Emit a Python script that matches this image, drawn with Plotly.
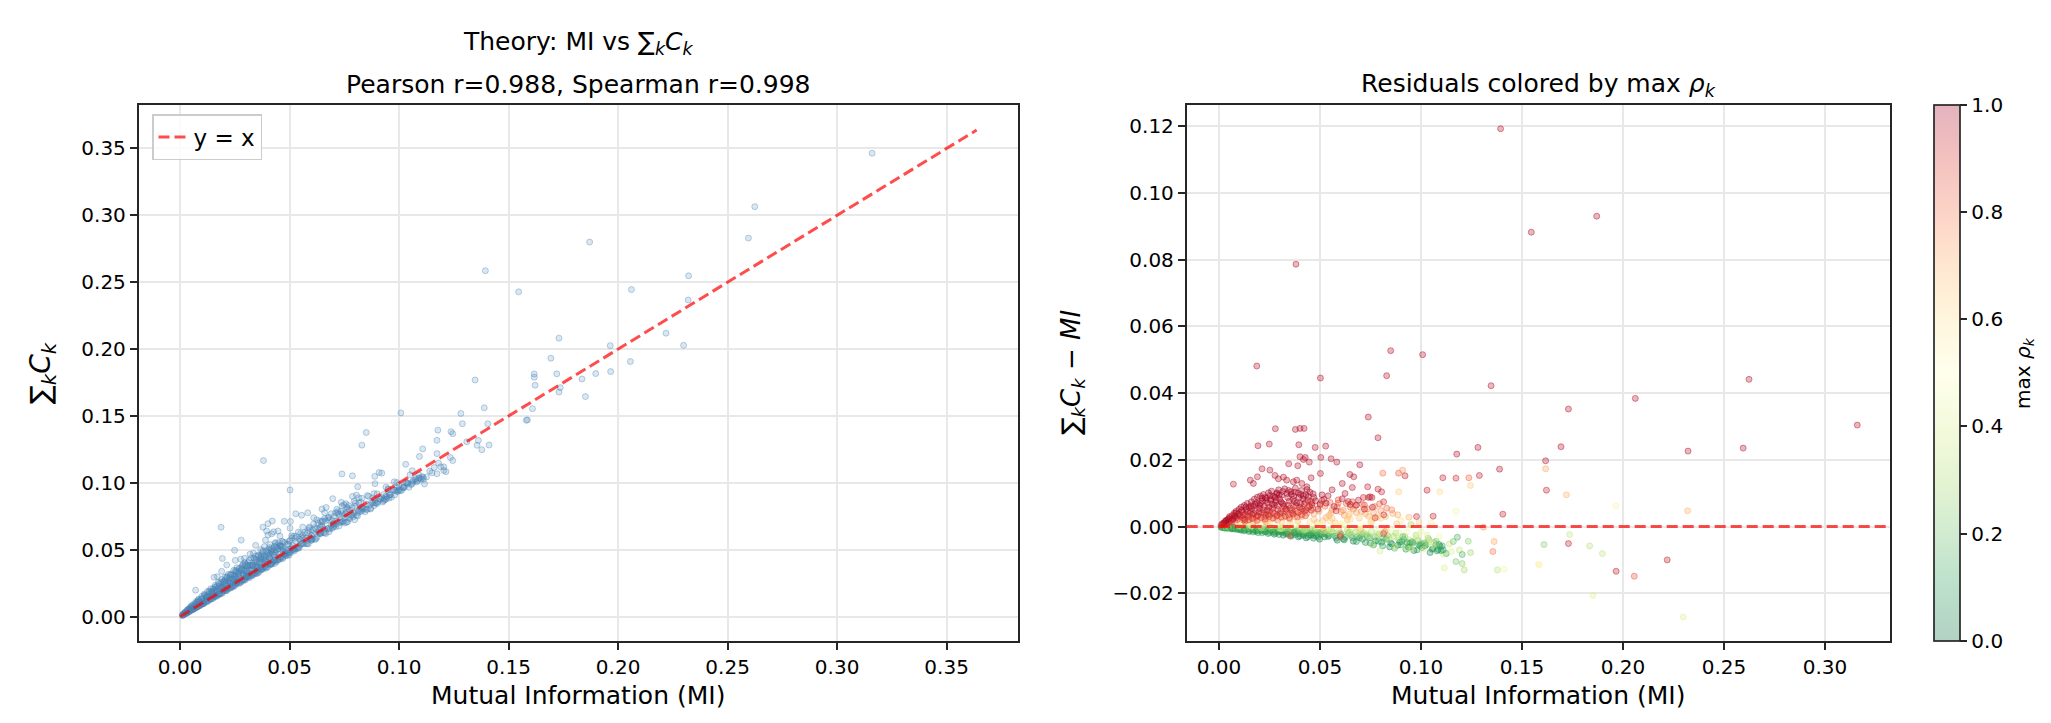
import numpy as np
import plotly.graph_objects as go

# ---------------- DATA ----------------
# Isolated / sparse points: mutual information, residual (sum C_k - MI), max rho_k
mi_sparse = [
    0.1394, 0.1546, 0.1870, 0.0381, 0.0187, 0.0502, 0.0850, 0.0830, 0.1008, 0.1347,
    0.2624, 0.2061, 0.1730, 0.3160, 0.0739, 0.0787, 0.1693, 0.2595, 0.2322, 0.1282,
    0.1177, 0.1617, 0.1389, 0.1617, 0.1108, 0.1173, 0.1237, 0.1289, 0.1245, 0.1093,
    0.1720, 0.1030, 0.1621, 0.1964, 0.2320, 0.1173, 0.1405, 0.0978, 0.1060, 0.1309,
    0.1736, 0.1730, 0.1362, 0.1356, 0.1609, 0.1835, 0.1898, 0.2219, 0.1966, 0.2056,
    0.1586, 0.1851, 0.2299, 0.1378, 0.1411, 0.1116, 0.1173, 0.1204, 0.1214, 0.1245,
    0.1204, 0.1234, 0.1160, 0.1180, 0.1090, 0.1100, 0.1110, 0.1075, 0.1020, 0.0990,
    0.0960, 0.0930, 0.0910, 0.0950, 0.0279, 0.0378, 0.0401, 0.0421, 0.0193, 0.0249,
    0.0395, 0.0476, 0.0528, 0.0213, 0.0252, 0.0345, 0.0390, 0.0401, 0.0418, 0.0427,
    0.0447, 0.0504, 0.0555, 0.0583, 0.0697, 0.0502, 0.0456, 0.0071, 0.0155, 0.0190,
    0.0170, 0.0277, 0.0294, 0.0319, 0.0335, 0.0368, 0.0385, 0.0410, 0.0435, 0.0648,
    0.0667, 0.0610, 0.0660, 0.0624, 0.0736, 0.0748, 0.0787, 0.0805, 0.0715, 0.0740,
    0.0757, 0.0815, 0.0773, 0.0816, 0.0889, 0.0909, 0.0921, 0.0811, 0.0890, 0.1581,
]
res_sparse = [
    0.1192, 0.0882, 0.0930, 0.0786, 0.0481, 0.0445, 0.0527, 0.0452, 0.0515, 0.0422,
    0.0441, 0.0384, 0.0352, 0.0304, 0.0328, 0.0266, 0.0239, 0.0235, 0.0226, 0.0237,
    0.0217, 0.0197, 0.0172, 0.0173, 0.0146, 0.0145, 0.0146, 0.0153, 0.0123, 0.0104,
    0.0095, 0.0109, 0.0109, 0.0062, 0.0047, 0.0046, 0.0037, 0.0030, 0.0031, -0.0002,
    -0.0024, -0.0051, -0.0045, -0.0075, -0.0054, -0.0058, -0.0081, -0.0100, -0.0134, -0.0149,
    -0.0115, -0.0206, -0.0271, -0.0130, -0.0128, -0.0124, -0.0105, -0.0111, -0.0130, -0.0078,
    -0.0084, -0.0044, -0.0045, -0.0032, -0.0054, -0.0072, -0.0070, -0.0054, -0.0052, -0.0055,
    -0.0050, -0.0048, -0.0030, 0.0006, 0.0293, 0.0291, 0.0294, 0.0294, 0.0242, 0.0247,
    0.0245, 0.0237, 0.0241, 0.0173, 0.0169, 0.0188, 0.0182, 0.0209, 0.0201, 0.0207,
    0.0193, 0.0207, 0.0203, 0.0193, 0.0185, 0.0159, 0.0146, 0.0127, 0.0139, 0.0149,
    0.0129, 0.0153, 0.0143, 0.0148, 0.0139, 0.0134, 0.0139, 0.0129, 0.0119, 0.0156,
    0.0149, 0.0129, 0.0117, 0.0099, 0.0119, 0.0089, 0.0112, 0.0104, 0.0087, 0.0087,
    0.0087, 0.0074, 0.0026, 0.0035, 0.0160, 0.0169, 0.0152, 0.0160, 0.0104, -0.0113,
]
rho_sparse = [
    0.97, 0.97, 0.97, 0.97, 0.97, 0.97, 0.97, 0.97, 0.97, 0.97,
    0.97, 0.97, 0.97, 0.97, 0.97, 0.97, 0.97, 0.97, 0.97, 0.97,
    0.97, 0.97, 0.97, 0.72, 0.95, 0.93, 0.82, 0.95, 0.65, 0.62,
    0.70, 0.95, 0.95, 0.55, 0.70, 0.45, 0.95, 0.95, 0.95, 0.75,
    0.35, 0.95, 0.72, 0.80, 0.25, 0.33, 0.35, 0.96, 0.96, 0.85,
    0.55, 0.40, 0.40, 0.33, 0.45, 0.40, 0.22, 0.25, 0.30, 0.28,
    0.15, 0.25, 0.20, 0.15, 0.10, 0.10, 0.12, 0.20, 0.25, 0.15,
    0.18, 0.10, 0.20, 0.30, 0.97, 0.97, 0.97, 0.97, 0.97, 0.97,
    0.97, 0.97, 0.97, 0.97, 0.97, 0.97, 0.97, 0.97, 0.97, 0.97,
    0.97, 0.97, 0.97, 0.97, 0.97, 0.97, 0.97, 0.95, 0.97, 0.97,
    0.97, 0.97, 0.97, 0.97, 0.97, 0.97, 0.97, 0.97, 0.97, 0.97,
    0.97, 0.97, 0.97, 0.97, 0.95, 0.95, 0.95, 0.95, 0.95, 0.95,
    0.95, 0.92, 0.92, 0.92, 0.85, 0.75, 0.95, 0.80, 0.65, 0.55,
]

# Dense cluster, high max rho_k (red wedge above zero)
mi_red = [
    0.0010, 0.0015, 0.0020, 0.0025, 0.0030, 0.0035, 0.0040, 0.0045, 0.0050, 0.0055,
    0.0060, 0.0065, 0.0070, 0.0075, 0.0080, 0.0085, 0.0090, 0.0095, 0.0100, 0.0105,
    0.0110, 0.0115, 0.0120, 0.0125, 0.0130, 0.0135, 0.0140, 0.0145, 0.0150, 0.0155,
    0.0160, 0.0165, 0.0170, 0.0175, 0.0180, 0.0185, 0.0190, 0.0195, 0.0200, 0.0205,
    0.0210, 0.0215, 0.0220, 0.0225, 0.0230, 0.0235, 0.0240, 0.0245, 0.0250, 0.0255,
    0.0260, 0.0265, 0.0270, 0.0275, 0.0280, 0.0285, 0.0290, 0.0295, 0.0300, 0.0305,
    0.0310, 0.0318, 0.0325, 0.0333, 0.0340, 0.0348, 0.0355, 0.0363, 0.0370, 0.0378,
    0.0385, 0.0393, 0.0400, 0.0408, 0.0415, 0.0423, 0.0430, 0.0440, 0.0450, 0.0460,
    0.0128, 0.0148, 0.0168, 0.0188, 0.0208, 0.0228, 0.0248, 0.0268, 0.0288, 0.0308,
    0.0328, 0.0348, 0.0368, 0.0388, 0.0408, 0.0428, 0.0470, 0.0490, 0.0510, 0.0530,
    0.0350, 0.0600, 0.0815, 0.0520, 0.0680, 0.0560, 0.0640, 0.0580, 0.0720, 0.0760,
    0.0022, 0.0038, 0.0052, 0.0068, 0.0083, 0.0097, 0.0112, 0.0127, 0.0143, 0.0158,
    0.0172, 0.0187, 0.0203, 0.0218, 0.0232, 0.0247, 0.0263, 0.0278, 0.0292, 0.0307,
    0.0322, 0.0337, 0.0352, 0.0367, 0.0382, 0.0397, 0.0412, 0.0427, 0.0442, 0.0457,
    0.0088, 0.0118, 0.0133, 0.0163, 0.0178, 0.0198, 0.0213, 0.0238, 0.0253, 0.0273,
    0.0283, 0.0298, 0.0313, 0.0343, 0.0358, 0.0373, 0.0403, 0.0418, 0.0448, 0.0478,
    0.0145, 0.0192, 0.0222, 0.0242, 0.0268, 0.0302, 0.0332, 0.0362, 0.0392, 0.0432,
    0.0500, 0.0540, 0.0570, 0.0610, 0.0650, 0.0690, 0.0033, 0.0048, 0.0063, 0.0078,
    0.0205, 0.0228, 0.0258, 0.0287, 0.0316, 0.0345, 0.0376, 0.0405, 0.0436, 0.0466,
]
res_red = [
    0.0004, 0.0008, 0.0006, 0.0012, 0.0009, 0.0016, 0.0011, 0.0021, 0.0014, 0.0027,
    0.0018, 0.0033, 0.0024, 0.0040, 0.0029, 0.0046, 0.0021, 0.0038, 0.0052, 0.0031,
    0.0058, 0.0044, 0.0026, 0.0063, 0.0037, 0.0051, 0.0069, 0.0030, 0.0057, 0.0042,
    0.0074, 0.0035, 0.0061, 0.0082, 0.0048, 0.0029, 0.0088, 0.0066, 0.0054, 0.0091,
    0.0041, 0.0077, 0.0096, 0.0060, 0.0033, 0.0085, 0.0070, 0.0101, 0.0047, 0.0079,
    0.0106, 0.0055, 0.0090, 0.0038, 0.0072, 0.0098, 0.0062, 0.0110, 0.0083, 0.0045,
    0.0094, 0.0067, 0.0113, 0.0052, 0.0087, 0.0076, 0.0104, 0.0040, 0.0092, 0.0115,
    0.0071, 0.0100, 0.0058, 0.0108, 0.0083, 0.0046, 0.0095, 0.0078, 0.0103, 0.0065,
    0.0016, 0.0020, 0.0024, 0.0018, 0.0027, 0.0022, 0.0030, 0.0025, 0.0033, 0.0028,
    0.0031, 0.0026, 0.0037, 0.0029, 0.0035, 0.0032, 0.0087, 0.0052, 0.0095, 0.0070,
    -0.0028, -0.0030, -0.0021, 0.0082, 0.0064, 0.0110, 0.0075, 0.0047, 0.0052, 0.0058,
    0.0010, 0.0019, 0.0030, 0.0022, 0.0041, 0.0035, 0.0049, 0.0021, 0.0045, 0.0062,
    0.0039, 0.0071, 0.0063, 0.0050, 0.0078, 0.0058, 0.0067, 0.0088, 0.0051, 0.0074,
    0.0061, 0.0099, 0.0055, 0.0081, 0.0063, 0.0088, 0.0053, 0.0072, 0.0090, 0.0049,
    0.0027, 0.0034, 0.0059, 0.0053, 0.0067, 0.0044, 0.0085, 0.0049, 0.0093, 0.0064,
    0.0079, 0.0095, 0.0070, 0.0064, 0.0097, 0.0075, 0.0070, 0.0092, 0.0060, 0.0077,
    0.0035, 0.0032, 0.0040, 0.0036, 0.0043, 0.0039, 0.0045, 0.0048, 0.0042, 0.0050,
    0.0068, 0.0092, 0.0060, 0.0083, 0.0066, 0.0079, 0.0018, 0.0024, 0.0012, 0.0032,
    0.0069, 0.0087, 0.0083, 0.0101, 0.0105, 0.0108, 0.0103, 0.0096, 0.0111, 0.0098,
]
rho_red = [
    0.92, 0.96, 0.90, 0.97, 0.94, 0.98, 0.91, 0.97, 0.95, 0.99,
    0.93, 0.98, 0.95, 0.99, 0.92, 0.97, 0.90, 0.96, 0.99, 0.94,
    0.99, 0.96, 0.91, 0.98, 0.94, 0.97, 0.99, 0.92, 0.98, 0.95,
    0.99, 0.93, 0.97, 0.99, 0.95, 0.90, 0.99, 0.97, 0.96, 0.99,
    0.94, 0.98, 0.99, 0.96, 0.91, 0.98, 0.97, 0.99, 0.93, 0.98,
    0.99, 0.95, 0.98, 0.92, 0.97, 0.99, 0.96, 0.99, 0.98, 0.93,
    0.98, 0.96, 0.99, 0.94, 0.98, 0.97, 0.99, 0.91, 0.98, 0.99,
    0.97, 0.99, 0.95, 0.99, 0.98, 0.92, 0.99, 0.97, 0.99, 0.96,
    0.86, 0.88, 0.90, 0.85, 0.89, 0.87, 0.91, 0.88, 0.90, 0.86,
    0.89, 0.87, 0.91, 0.86, 0.90, 0.88, 0.98, 0.94, 0.99, 0.97,
    0.85, 0.90, 0.88, 0.97, 0.95, 0.98, 0.96, 0.93, 0.94, 0.95,
    0.95, 0.98, 0.93, 0.97, 0.99, 0.94, 0.98, 0.92, 0.97, 0.99,
    0.96, 0.99, 0.98, 0.95, 0.99, 0.97, 0.98, 0.99, 0.94, 0.98,
    0.97, 0.99, 0.95, 0.98, 0.96, 0.99, 0.94, 0.97, 0.99, 0.93,
    0.96, 0.94, 0.99, 0.97, 0.98, 0.95, 0.99, 0.96, 0.99, 0.98,
    0.99, 0.99, 0.97, 0.96, 0.99, 0.98, 0.97, 0.99, 0.95, 0.98,
    0.90, 0.92, 0.91, 0.93, 0.90, 0.92, 0.91, 0.93, 0.90, 0.92,
    0.96, 0.98, 0.95, 0.97, 0.96, 0.97, 0.97, 0.99, 0.92, 0.98,
    0.99, 0.99, 0.98, 0.99, 0.99, 0.99, 0.98, 0.99, 0.99, 0.98,
]

# Dense cluster, intermediate max rho_k (orange / yellow)
mi_mid = [
    0.0050, 0.0080, 0.0110, 0.0140, 0.0170, 0.0200, 0.0230, 0.0260, 0.0290, 0.0320,
    0.0350, 0.0380, 0.0410, 0.0440, 0.0470, 0.0500, 0.0530, 0.0560, 0.0590, 0.0620,
    0.0650, 0.0680, 0.0710, 0.0740, 0.0770, 0.0800, 0.0830, 0.0860, 0.0455, 0.0485,
    0.0515, 0.0545, 0.0575, 0.0605, 0.0635, 0.0665, 0.0695, 0.0725, 0.0755, 0.0785,
    0.0100, 0.0150, 0.0200, 0.0250, 0.0300, 0.0350, 0.0400, 0.0450, 0.0500, 0.0550,
    0.0600, 0.0650, 0.0700, 0.0750, 0.0800, 0.0850, 0.0900, 0.0950, 0.1000, 0.1050,
    0.0580, 0.0630, 0.0680, 0.0730, 0.0780, 0.0830, 0.0880, 0.0930, 0.0980, 0.1030,
    0.0797, 0.0929, 0.0954, 0.1012, 0.1111, 0.1062, 0.0870, 0.1150, 0.1190, 0.0760,
    0.0120, 0.0160, 0.0190, 0.0225, 0.0255, 0.0285, 0.0315, 0.0345, 0.0375, 0.0405,
    0.0435, 0.0465, 0.0495, 0.0525, 0.0555, 0.0585, 0.0615, 0.0645, 0.0675, 0.0705,
    0.0735, 0.0765, 0.0795, 0.0825, 0.0855, 0.0885, 0.0240, 0.0310, 0.0390, 0.0470,
    0.0520, 0.0560, 0.0600, 0.0640, 0.0700, 0.0760, 0.0820, 0.0880, 0.0940, 0.0990,
    0.0330, 0.0370, 0.0420, 0.0460, 0.0510, 0.0550, 0.0590, 0.0630, 0.0660, 0.0720,
    0.0300, 0.0360, 0.0420, 0.0480, 0.0540, 0.0590, 0.0640, 0.0690, 0.0740, 0.0790,
    0.0840, 0.0890, 0.0940, 0.0990, 0.1040, 0.1090, 0.1140, 0.0710, 0.0610, 0.0510,
    0.0160, 0.0210, 0.0260, 0.0310, 0.0370, 0.0430, 0.0490, 0.0550, 0.0600, 0.0660,
]
res_mid = [
    0.0008, 0.0012, 0.0010, 0.0017, 0.0013, 0.0020, 0.0015, 0.0024, 0.0019, 0.0028,
    0.0022, 0.0045, 0.0030, 0.0056, 0.0038, 0.0064, 0.0027, 0.0051, 0.0070, 0.0034,
    0.0058, 0.0042, 0.0066, 0.0031, 0.0060, 0.0048, 0.0055, 0.0039, 0.0075, 0.0012,
    0.0018, 0.0033, 0.0011, 0.0044, 0.0020, 0.0052, 0.0025, 0.0038, 0.0015, 0.0029,
    0.0003, 0.0006, 0.0004, 0.0009, 0.0005, 0.0011, 0.0007, 0.0014, 0.0002, 0.0017,
    0.0008, 0.0021, -0.0004, 0.0013, 0.0025, -0.0008, 0.0018, 0.0003, -0.0015, 0.0010,
    -0.0010, 0.0002, -0.0018, -0.0006, -0.0022, -0.0012, -0.0030, -0.0016, -0.0035, -0.0025,
    -0.0073, -0.0063, -0.0068, -0.0068, -0.0083, -0.0053, -0.0060, -0.0075, -0.0070, -0.0055,
    0.0020, 0.0026, 0.0032, 0.0028, 0.0036, 0.0031, 0.0041, 0.0035, 0.0030, 0.0048,
    0.0040, 0.0055, 0.0046, 0.0061, 0.0041, 0.0059, 0.0049, 0.0037, 0.0063, 0.0045,
    0.0053, 0.0042, 0.0068, 0.0030, 0.0050, 0.0035, 0.0010, 0.0013, 0.0016, 0.0021,
    -0.0012, 0.0024, -0.0020, 0.0030, -0.0008, 0.0022, -0.0015, 0.0008, 0.0028, 0.0012,
    0.0052, 0.0060, 0.0067, 0.0071, 0.0078, 0.0072, 0.0080, 0.0069, 0.0074, 0.0065,
    -0.0005, 0.0002, -0.0010, -0.0003, -0.0015, 0.0000, -0.0020, -0.0008, -0.0026, -0.0012,
    -0.0032, -0.0018, -0.0040, -0.0024, -0.0047, -0.0030, -0.0052, 0.0005, 0.0010, 0.0006,
    0.0001, -0.0004, 0.0003, -0.0006, 0.0004, -0.0008, 0.0002, -0.0011, 0.0006, -0.0004,
]
rho_mid = [
    0.75, 0.80, 0.70, 0.78, 0.82, 0.72, 0.80, 0.76, 0.83, 0.74,
    0.78, 0.82, 0.72, 0.80, 0.75, 0.84, 0.70, 0.78, 0.82, 0.73,
    0.80, 0.74, 0.83, 0.70, 0.78, 0.76, 0.82, 0.72, 0.85, 0.68,
    0.68, 0.72, 0.66, 0.74, 0.70, 0.76, 0.67, 0.71, 0.66, 0.69,
    0.55, 0.60, 0.50, 0.58, 0.52, 0.62, 0.48, 0.60, 0.50, 0.63,
    0.55, 0.62, 0.48, 0.58, 0.63, 0.45, 0.60, 0.52, 0.45, 0.56,
    0.42, 0.45, 0.40, 0.44, 0.38, 0.42, 0.40, 0.45, 0.38, 0.42,
    0.38, 0.40, 0.36, 0.42, 0.38, 0.44, 0.36, 0.40, 0.35, 0.37,
    0.82, 0.78, 0.84, 0.80, 0.76, 0.83, 0.79, 0.85, 0.74, 0.81,
    0.77, 0.82, 0.74, 0.80, 0.72, 0.84, 0.76, 0.70, 0.83, 0.75,
    0.80, 0.73, 0.84, 0.70, 0.78, 0.72, 0.68, 0.66, 0.70, 0.67,
    0.70, 0.66, 0.75, 0.64, 0.72, 0.62, 0.78, 0.66, 0.70, 0.64,
    0.86, 0.84, 0.87, 0.85, 0.88, 0.84, 0.86, 0.85, 0.87, 0.84,
    0.38, 0.45, 0.35, 0.42, 0.36, 0.48, 0.33, 0.40, 0.35, 0.44,
    0.36, 0.42, 0.34, 0.44, 0.38, 0.46, 0.35, 0.50, 0.52, 0.48,
    0.45, 0.38, 0.50, 0.40, 0.52, 0.36, 0.48, 0.40, 0.54, 0.42,
]

# Dense cluster, low max rho_k (green band just below zero)
mi_low = [
    0.0010, 0.0020, 0.0030, 0.0040, 0.0050, 0.0060, 0.0070, 0.0080, 0.0090, 0.0100,
    0.0110, 0.0120, 0.0130, 0.0140, 0.0150, 0.0160, 0.0170, 0.0180, 0.0190, 0.0200,
    0.0210, 0.0220, 0.0230, 0.0240, 0.0250, 0.0260, 0.0270, 0.0280, 0.0290, 0.0300,
    0.0310, 0.0320, 0.0330, 0.0340, 0.0350, 0.0360, 0.0370, 0.0380, 0.0390, 0.0400,
    0.0410, 0.0420, 0.0430, 0.0440, 0.0450, 0.0460, 0.0470, 0.0480, 0.0490, 0.0500,
    0.0520, 0.0540, 0.0560, 0.0580, 0.0600, 0.0620, 0.0640, 0.0660, 0.0680, 0.0700,
    0.0710, 0.0730, 0.0750, 0.0770, 0.0790, 0.0810, 0.0830, 0.0850, 0.0870, 0.0890,
    0.0900, 0.0920, 0.0940, 0.0960, 0.0980, 0.1000, 0.1020, 0.1040, 0.1060, 0.1080,
    0.0015, 0.0025, 0.0035, 0.0045, 0.0055, 0.0065, 0.0075, 0.0085, 0.0095, 0.0105,
    0.0115, 0.0135, 0.0155, 0.0175, 0.0195, 0.0215, 0.0235, 0.0255, 0.0275, 0.0295,
    0.0315, 0.0335, 0.0355, 0.0375, 0.0395, 0.0415, 0.0435, 0.0455, 0.0475, 0.0495,
    0.0515, 0.0535, 0.0555, 0.0575, 0.0595, 0.0615, 0.0635, 0.0655, 0.0675, 0.0695,
    0.0715, 0.0735, 0.0755, 0.0775, 0.0795, 0.0815, 0.0835, 0.0855, 0.0875, 0.0895,
    0.0915, 0.0935, 0.0955, 0.0975, 0.0995, 0.1015, 0.1035, 0.1055, 0.1075, 0.1095,
    0.0012, 0.0018, 0.0028, 0.0033, 0.0042, 0.0048, 0.0058, 0.0063, 0.0072, 0.0078,
    0.0087, 0.0093, 0.0102, 0.0108, 0.0118, 0.0124, 0.0133, 0.0139, 0.0148, 0.0153,
    0.0163, 0.0168, 0.0178, 0.0183, 0.0192, 0.0198, 0.0207, 0.0213, 0.0222, 0.0228,
    0.0237, 0.0243, 0.0252, 0.0258, 0.0267, 0.0273, 0.0282, 0.0288, 0.0297, 0.0303,
    0.0312, 0.0318, 0.0327, 0.0333, 0.0342, 0.0348, 0.0357, 0.0363, 0.0372, 0.0378,
    0.0387, 0.0393, 0.0402, 0.0408, 0.0417, 0.0423, 0.0432, 0.0438, 0.0447, 0.0453,
    0.0462, 0.0468, 0.0477, 0.0483, 0.0492, 0.0498, 0.0507, 0.0513, 0.0522, 0.0528,
    0.0545, 0.0565, 0.0585, 0.0605, 0.0625, 0.0645, 0.0665, 0.0685, 0.0705, 0.0725,
    0.0745, 0.0765, 0.0785, 0.0805, 0.0825, 0.0845, 0.0865, 0.0885, 0.0905, 0.0925,
    0.0945, 0.0965, 0.0985, 0.1005, 0.1025, 0.1045, 0.1065, 0.1085, 0.1105, 0.1125,
]
res_low = [
    -0.0001, -0.0002, -0.0003, -0.0002, -0.0004, -0.0005, -0.0003, -0.0006, -0.0007, -0.0005,
    -0.0008, -0.0004, -0.0010, -0.0006, -0.0012, -0.0009, -0.0005, -0.0014, -0.0011, -0.0008,
    -0.0013, -0.0007, -0.0016, -0.0010, -0.0018, -0.0012, -0.0006, -0.0020, -0.0015, -0.0009,
    -0.0017, -0.0011, -0.0022, -0.0014, -0.0008, -0.0025, -0.0019, -0.0013, -0.0021, -0.0028,
    -0.0016, -0.0024, -0.0010, -0.0030, -0.0020, -0.0014, -0.0027, -0.0018, -0.0032, -0.0023,
    -0.0021, -0.0030, -0.0015, -0.0035, -0.0026, -0.0040, -0.0019, -0.0033, -0.0045, -0.0028,
    -0.0038, -0.0024, -0.0050, -0.0031, -0.0044, -0.0058, -0.0036, -0.0049, -0.0065, -0.0041,
    -0.0055, -0.0030, -0.0062, -0.0047, -0.0070, -0.0052, -0.0058, -0.0040, -0.0066, -0.0073,
    -0.0002, -0.0001, -0.0004, -0.0003, -0.0002, -0.0006, -0.0004, -0.0003, -0.0005, -0.0009,
    -0.0003, -0.0007, -0.0005, -0.0010, -0.0004, -0.0009, -0.0012, -0.0005, -0.0011, -0.0014,
    -0.0006, -0.0018, -0.0009, -0.0015, -0.0004, -0.0020, -0.0012, -0.0026, -0.0008, -0.0019,
    -0.0010, -0.0024, -0.0008, -0.0029, -0.0013, -0.0037, -0.0011, -0.0026, -0.0016, -0.0034,
    -0.0018, -0.0030, -0.0014, -0.0043, -0.0022, -0.0035, -0.0027, -0.0052, -0.0020, -0.0046,
    -0.0038, -0.0061, -0.0045, -0.0026, -0.0058, -0.0049, -0.0035, -0.0068, -0.0044, -0.0060,
    -0.0003, -0.0001, -0.0005, -0.0002, -0.0006, -0.0001, -0.0004, -0.0007, -0.0002, -0.0008,
    -0.0004, -0.0009, -0.0002, -0.0011, -0.0006, -0.0013, -0.0003, -0.0008, -0.0015, -0.0004,
    -0.0010, -0.0016, -0.0006, -0.0013, -0.0018, -0.0007, -0.0012, -0.0019, -0.0004, -0.0015,
    -0.0009, -0.0021, -0.0013, -0.0003, -0.0017, -0.0023, -0.0010, -0.0016, -0.0024, -0.0007,
    -0.0013, -0.0026, -0.0019, -0.0005, -0.0023, -0.0015, -0.0029, -0.0010, -0.0018, -0.0024,
    -0.0016, -0.0031, -0.0009, -0.0022, -0.0027, -0.0012, -0.0034, -0.0019, -0.0025, -0.0008,
    -0.0021, -0.0035, -0.0012, -0.0028, -0.0017, -0.0038, -0.0024, -0.0013, -0.0031, -0.0019,
    -0.0027, -0.0018, -0.0041, -0.0023, -0.0032, -0.0016, -0.0044, -0.0030, -0.0021, -0.0048,
    -0.0033, -0.0055, -0.0026, -0.0047, -0.0039, -0.0061, -0.0030, -0.0056, -0.0045, -0.0068,
    -0.0050, -0.0072, -0.0042, -0.0063, -0.0055, -0.0078, -0.0048, -0.0069, -0.0058, -0.0081,
]
rho_low = [
    0.05, 0.10, 0.08, 0.15, 0.12, 0.20, 0.10, 0.18, 0.25, 0.12,
    0.15, 0.22, 0.08, 0.18, 0.12, 0.25, 0.10, 0.20, 0.14, 0.28,
    0.12, 0.20, 0.08, 0.25, 0.15, 0.10, 0.28, 0.14, 0.18, 0.22,
    0.10, 0.18, 0.12, 0.25, 0.30, 0.08, 0.15, 0.22, 0.12, 0.10,
    0.20, 0.12, 0.28, 0.08, 0.15, 0.25, 0.10, 0.18, 0.12, 0.22,
    0.18, 0.10, 0.25, 0.12, 0.20, 0.08, 0.28, 0.15, 0.10, 0.22,
    0.12, 0.25, 0.08, 0.20, 0.15, 0.10, 0.22, 0.12, 0.18, 0.28,
    0.15, 0.25, 0.10, 0.20, 0.12, 0.18, 0.08, 0.28, 0.15, 0.10,
    0.20, 0.30, 0.15, 0.25, 0.30, 0.10, 0.22, 0.28, 0.15, 0.08,
    0.25, 0.12, 0.30, 0.18, 0.28, 0.10, 0.20, 0.30, 0.15, 0.12,
    0.30, 0.15, 0.25, 0.10, 0.32, 0.18, 0.22, 0.08, 0.30, 0.14,
    0.30, 0.15, 0.32, 0.12, 0.25, 0.10, 0.30, 0.18, 0.25, 0.12,
    0.28, 0.15, 0.32, 0.10, 0.25, 0.18, 0.22, 0.08, 0.30, 0.12,
    0.20, 0.10, 0.15, 0.30, 0.08, 0.18, 0.25, 0.10, 0.20, 0.12,
    0.12, 0.22, 0.08, 0.28, 0.14, 0.32, 0.18, 0.06, 0.25, 0.10,
    0.20, 0.08, 0.30, 0.12, 0.22, 0.06, 0.28, 0.16, 0.10, 0.26,
    0.14, 0.08, 0.24, 0.12, 0.06, 0.22, 0.16, 0.10, 0.30, 0.12,
    0.18, 0.08, 0.14, 0.30, 0.12, 0.06, 0.22, 0.14, 0.08, 0.26,
    0.16, 0.06, 0.12, 0.30, 0.10, 0.20, 0.08, 0.24, 0.14, 0.10,
    0.18, 0.06, 0.28, 0.12, 0.10, 0.22, 0.05, 0.16, 0.12, 0.30,
    0.14, 0.06, 0.26, 0.10, 0.20, 0.05, 0.12, 0.28, 0.08, 0.18,
    0.10, 0.22, 0.06, 0.16, 0.12, 0.28, 0.05, 0.14, 0.24, 0.08,
    0.16, 0.06, 0.26, 0.10, 0.18, 0.05, 0.28, 0.08, 0.14, 0.10,
    0.12, 0.06, 0.22, 0.10, 0.16, 0.05, 0.24, 0.08, 0.14, 0.12,
]

# Tick labels
x1_ticks = [0.00, 0.05, 0.10, 0.15, 0.20, 0.25, 0.30, 0.35]
y1_ticks = [0.00, 0.05, 0.10, 0.15, 0.20, 0.25, 0.30, 0.35]
x2_ticks = [0.00, 0.05, 0.10, 0.15, 0.20, 0.25, 0.30]
y2_ticks = [-0.02, 0.00, 0.02, 0.04, 0.06, 0.08, 0.10, 0.12]
cbar_ticks = [0.0, 0.2, 0.4, 0.6, 0.8, 1.0]

for a, b, c in [(mi_sparse, res_sparse, rho_sparse), (mi_red, res_red, rho_red),
                (mi_mid, res_mid, rho_mid), (mi_low, res_low, rho_low)]:
    assert len(a) == len(b) == len(c), (len(a), len(b), len(c))

# ---------------- FIGURE ----------------
mi = np.array(mi_low + mi_mid + mi_red + mi_sparse)
resid = np.array(res_low + res_mid + res_red + res_sparse)
max_rho = np.array(rho_low + rho_mid + rho_red + rho_sparse)
sum_c = mi + resid
line_end = max(mi.max(), sum_c.max()) * 1.05

FONT = "DejaVu Sans"
W, H = 2051, 723

rdylgn_r = ["#006837", "#1a9850", "#66bd63", "#a6d96a", "#d9ef8b", "#ffffbf",
            "#fee08b", "#fdae61", "#f46d43", "#d73027", "#a50026"]


def rgba_scale(alpha):
    out = []
    for i, h in enumerate(rdylgn_r):
        r, g, b = int(h[1:3], 16), int(h[3:5], 16), int(h[5:7], 16)
        out.append([i / (len(rdylgn_r) - 1), f"rgba({r},{g},{b},{alpha})"])
    return out


fig = go.Figure()

fig.add_trace(go.Scatter(
    x=mi, y=sum_c, mode="markers", xaxis="x", yaxis="y", showlegend=False,
    marker=dict(size=6, color="rgba(70,130,180,0.2)",
                line=dict(color="rgba(70,130,180,0.36)", width=1)),
))
fig.add_trace(go.Scatter(
    x=[0, line_end], y=[0, line_end], mode="lines", name="y = x",
    xaxis="x", yaxis="y",
    line=dict(color="rgba(255,0,0,0.7)", width=3, dash="11px,5px"),
))
fig.add_trace(go.Scatter(
    x=mi, y=resid, mode="markers", xaxis="x2", yaxis="y2", showlegend=False,
    marker=dict(
        size=6, color=max_rho, cmin=0, cmax=1, colorscale=rgba_scale(0.3),
        line=dict(color=max_rho, cmin=0, cmax=1, colorscale=rgba_scale(0.45), width=1),
        colorbar=dict(
            thickness=25.7, thicknessmode="pixels",
            len=(641 - 104.7) / H, lenmode="fraction",
            x=1934 / W, xanchor="left", y=1 - (641 + 104.7) / 2 / H, yanchor="middle",
            xpad=0, ypad=0, outlinewidth=1.7, outlinecolor="#262626",
            tickvals=cbar_ticks, ticktext=[f"{v:.1f}" for v in cbar_ticks],
            ticks="outside", ticklen=7, tickwidth=1.7, tickcolor="#262626",
            tickfont=dict(family=FONT, size=20, color="black"),
        ),
    ),
))

fig.add_shape(type="line", xref="x2 domain", yref="y2", x0=0, x1=1, y0=0, y1=0,
              line=dict(color="rgba(255,0,0,0.7)", width=3, dash="11px,5px"))

ydom = [(723 - 641) / H, (723 - 104.7) / H]
axis_common = dict(
    showline=True, mirror=True, linecolor="#262626", linewidth=1.7,
    ticks="outside", ticklen=7, tickwidth=1.7, tickcolor="#262626",
    showgrid=True, gridcolor="#e8e8e8", gridwidth=1.5, zeroline=False,
    tickfont=dict(family=FONT, size=20, color="black"),
)


def lab(v, nd=2):
    s = f"{v:.{nd}f}"
    return s.replace("-", "\u2212")


fig.update_layout(
    width=W, height=H, margin=dict(l=0, r=0, t=0, b=0),
    paper_bgcolor="white", plot_bgcolor="white",
    font=dict(family=FONT, color="black"),
    xaxis=dict(domain=[138.7 / W, 1018 / W], range=[-0.0189, 0.3826],
               tickvals=x1_ticks, ticktext=[lab(v) for v in x1_ticks], **axis_common),
    yaxis=dict(domain=ydom, range=[-0.0182, 0.3827],
               tickvals=y1_ticks, ticktext=[lab(v) for v in y1_ticks], **axis_common),
    xaxis2=dict(domain=[1186.7 / W, 1890 / W], range=[-0.016, 0.3322], anchor="y2",
                tickvals=x2_ticks, ticktext=[lab(v) for v in x2_ticks], **axis_common),
    yaxis2=dict(domain=ydom, range=[-0.0343, 0.1264], anchor="x2",
                tickvals=y2_ticks, ticktext=[lab(v) for v in y2_ticks], **axis_common),
    legend=dict(x=152 / W, y=1 - 114 / H, xanchor="left", yanchor="top",
                bgcolor="rgba(255,255,255,0.8)", bordercolor="#cccccc", borderwidth=1.5,
                font=dict(family=FONT, size=23, color="black")),
)

ann = []
lc = (138.7 + 1018) / 2 / W
rc = (1186.7 + 1890) / 2 / W
ymid = 1 - 373 / H
ann.append(dict(text="Theory: MI vs \u2211<sub><i>k</i></sub><i>C</i><sub><i>k</i></sub>",
                x=lc, y=1 - 43 / H, font=dict(size=25)))
ann.append(dict(text="Pearson r=0.988, Spearman r=0.998", x=lc, y=1 - 84.5 / H, font=dict(size=25)))
ann.append(dict(text="Residuals colored by max <i>\u03c1</i><sub><i>k</i></sub>",
                x=rc, y=1 - 84.5 / H, font=dict(size=25)))
ann.append(dict(text="Mutual Information (MI)", x=lc, y=1 - 695 / H, font=dict(size=25)))
ann.append(dict(text="Mutual Information (MI)", x=rc, y=1 - 695 / H, font=dict(size=25)))
ann.append(dict(text="\u2211<sub><i>k</i></sub><i>C</i><sub><i>k</i></sub>",
                x=42 / W, y=ymid, textangle=-90, font=dict(size=28)))
ann.append(dict(text="\u2211<sub><i>k</i></sub><i>C</i><sub><i>k</i></sub> \u2212 <i>MI</i>",
                x=1072 / W, y=ymid, textangle=-90, font=dict(size=26)))
ann.append(dict(text="max <i>\u03c1</i><sub><i>k</i></sub>", x=2024 / W, y=ymid,
                textangle=-90, font=dict(size=20)))
for a in ann:
    a.update(xref="paper", yref="paper", showarrow=False, xanchor="center", yanchor="middle")
    a["font"].update(family=FONT, color="black")
fig.update_layout(annotations=ann)

fig.write_html("out.html")
